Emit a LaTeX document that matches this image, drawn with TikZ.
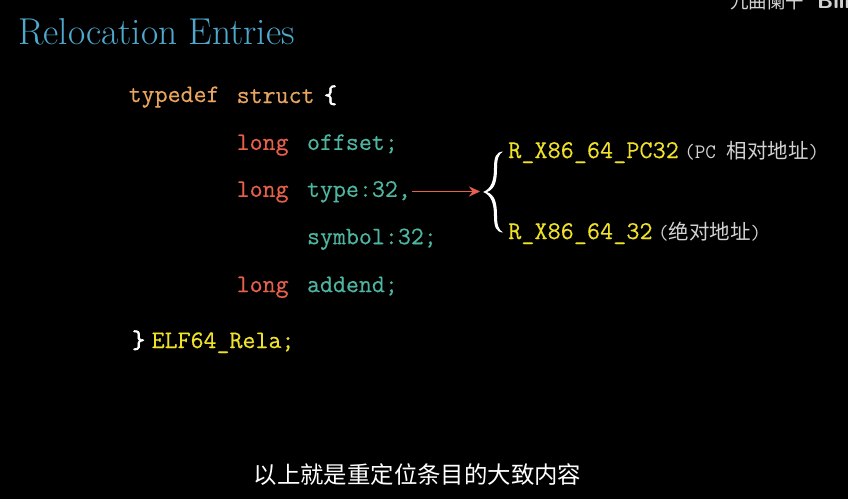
\documentclass[tikz,border=0pt]{standalone}
\usepackage{fontspec}
\newfontfamily\cjk{Noto Sans CJK SC}
\newfontfamily\codefont[FakeBold=0.4]{Latin Modern Mono}
\newfontfamily\relfont[FakeBold=0.2]{Latin Modern Mono}
\newfontfamily\bracefont[FakeBold=2.5]{Latin Modern Mono}
\usepackage{xcolor}
\usetikzlibrary{arrows.meta, positioning, calc}
\definecolor{titleblue}{HTML}{4FA9CF}
\definecolor{kworange}{HTML}{E9A55E}
\definecolor{kwred}{HTML}{E8604C}
\definecolor{fieldteal}{HTML}{4DB5A0}
\definecolor{relyellow}{HTML}{F0E228}
\definecolor{notegray}{HTML}{D2D2D2}
\tikzset{
    code/.style={inner sep=0pt, text height=17pt, text depth=6pt, font=\fontsize{25.2}{28}\codefont},
    kwtype/.style={code, text=kworange},
    kwlong/.style={code, text=kwred},
    field/.style={code, text=fieldteal},
    closing/.style={code, text=white, font=\fontsize{25.2}{28}\bracefont},
    rel/.style={code, text=relyellow, font=\fontsize{25.5}{28}\relfont},
    note/.style={inner sep=0pt, text height=17pt, text depth=6pt, text=notegray, font=\fontsize{20.5}{24}\ttfamily},
}

\begin{document}
\begin{tikzpicture}[x=1pt, y=-1pt, node distance=24pt, >=Stealth]
            \useasboundingbox[fill=black] (0,0) rectangle (848,499);

            \node[inner sep=0pt, anchor=base west, text=titleblue, font=\fontsize{37.4}{40}\selectfont] (title) at (18,44) {Relocation Entries};

            \node[kwtype, anchor=base west] (typedef) at (128.5,102) {typedef};
            \node[kwtype, anchor=base west] (struct) at (236.5,103) {struct};
            \node[closing, right=9pt of struct] (open) {\{};

            \node[kwlong, below=23.5pt of struct.south west, anchor=north west] (long1) {long};
            \node[field, right=18pt of long1] (offset) {offset;};
            \node[kwlong, below=23.5pt of long1] (long2) {long};
            \node[field, right=18pt of long2] (type) {type:32,};
            \node[field, below=24pt of type.south west, anchor=north west] (symbol) {symbol:32;};
            \node[field, below=24.5pt of symbol.south west, anchor=north west] (addend) {addend;};
            \node[kwlong, left=18pt of addend] (long3) {long};

            \node[closing, anchor=base west] (close) at (132,348) {\}};
            \node[code, text=relyellow, anchor=base west] (elf) at (151.5,348) {ELF64\_Rela;};

            \node[rel, anchor=base west] (pc) at (508,158) {R\_X86\_64\_PC32};
            \node[note, right=5pt of pc] (pcnote) {(PC {\cjk 相对地址})};
            \node[rel, anchor=base west] (abs) at (508,239) {R\_X86\_64\_32};
            \node[note, right=5pt of abs] (absnote) {({\cjk 绝对地址})};

            \coordinate (bracetip) at (483,192);
            \coordinate (arrowstart) at (411.5,191.5);
            \fill[white] (503,151.5) .. controls (496,152) and (494,157) .. (494,168)
                .. controls (494,181) and (491,189) .. (bracetip)
                .. controls (491,195) and (494,203) .. (494,216)
                .. controls (494,227) and (496,232) .. (503,232.5)
                .. controls (499,230) and (497,226) .. (497,216)
                .. controls (497,203) and (495,195) .. (487,192)
                .. controls (495,189) and (497,181) .. (497,168)
                .. controls (497,158) and (499,154) .. (503,151.5) -- cycle;

            \draw[-{Stealth[length=11pt, width=10pt]}, kwred, line width=1.8pt] (arrowstart) -- (480,191.5);

            \node[inner sep=0pt, anchor=center, text=notegray, font=\fontsize{18.5}{22}\cjk] (channel) at (767,1) {九曲阑干};
            \node[inner sep=0pt, anchor=west, text=notegray, font=\fontsize{22}{24}\bfseries\sffamily] (site) at (817,1) {Bili};

            \node[inner sep=0pt, text=white, font=\fontsize{23.4}{28}\cjk] (caption) at (417.5,475) {以上就是重定位条目的大致内容};
\end{tikzpicture}
\end{document}
